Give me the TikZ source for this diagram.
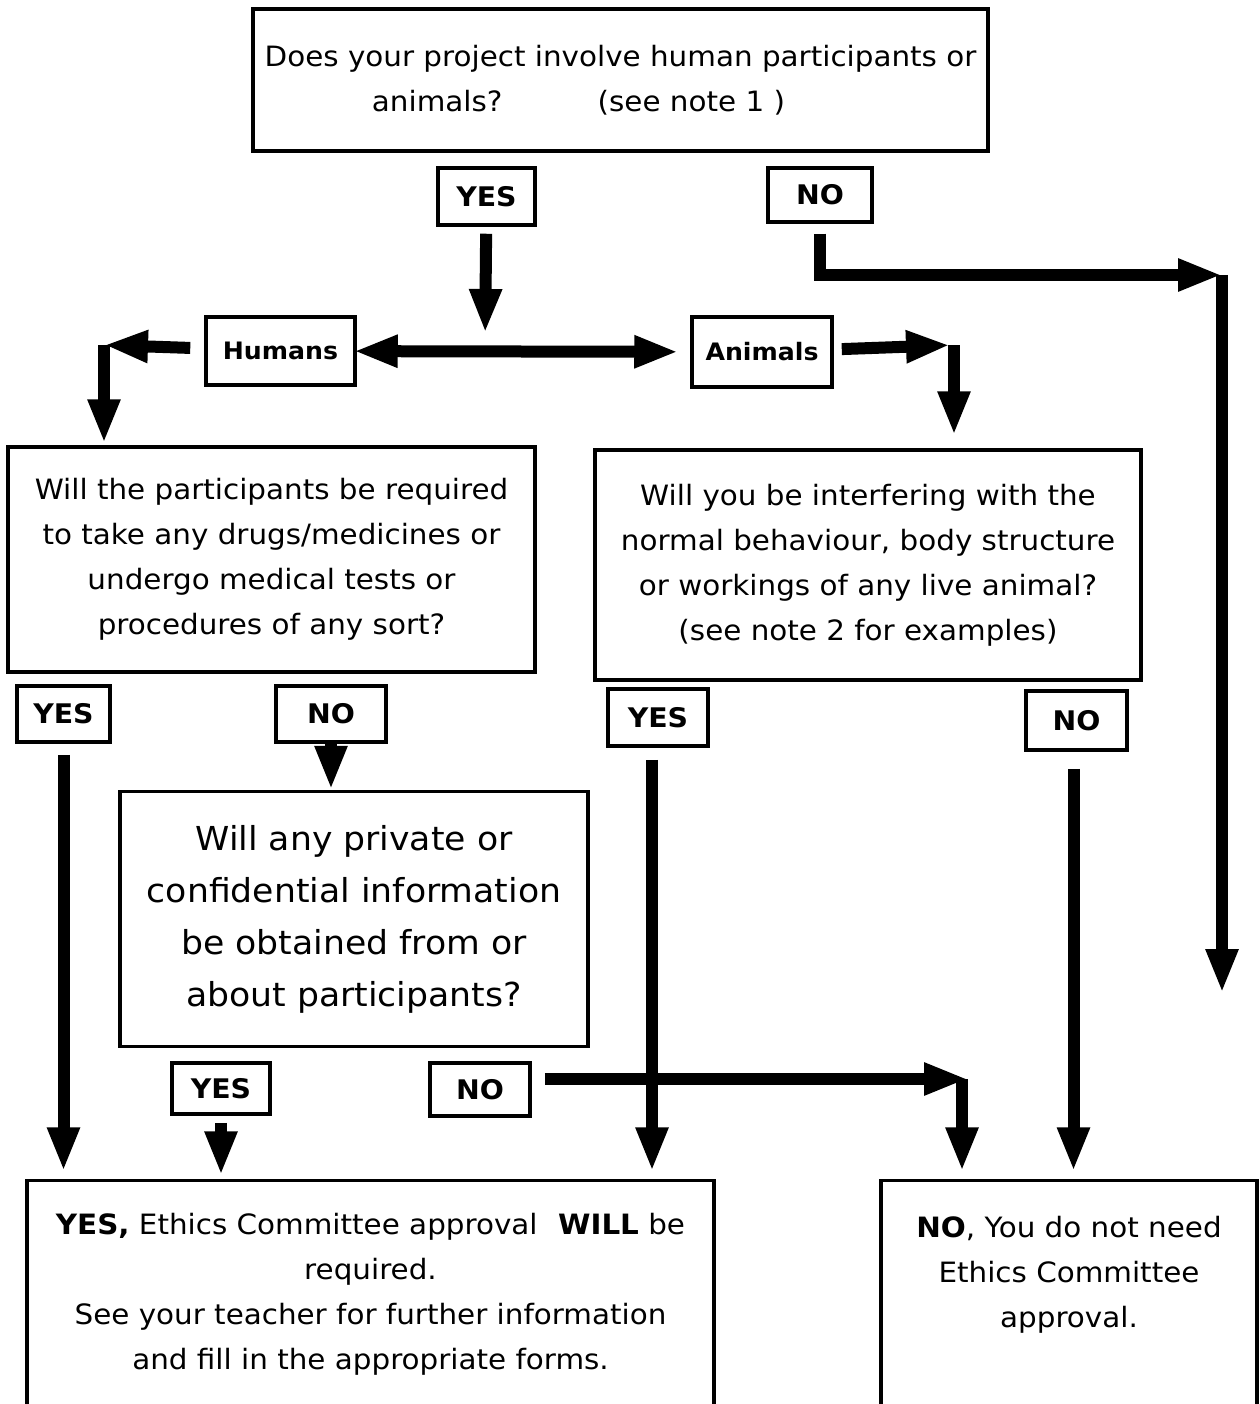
\documentclass[tikz,border=0pt]{standalone}
\usepackage{fontspec}
\setmainfont{DejaVu Sans}[FakeStretch=1.05]
\usetikzlibrary{arrows.meta}

\begin{document}
\begin{tikzpicture}[x=1pt,y=-1pt]

\tikzset{box/.style = {draw,line width=3.5pt,inner sep=0pt,align=center,font=\fontsize{28}{45}\selectfont}}
\tikzset{tag/.style = {box,font=\fontsize{27}{30}\selectfont\bfseries}}
\tikzset{outbox/.style = {inner sep=0pt,align=center,font=\fontsize{28}{45}\selectfont}}
\tikzset{edge/.style = {-{Triangle[length=44pt,width=30pt]},line width=12pt}}
\tikzset{wall/.style = {line width=3.5pt}}

\useasboundingbox (0,0) rectangle (1259,1404);
% questions
\node[box,minimum width=735pt,minimum height=142pt] (Start) at (620.5,80) {Does your project involve human participants or\\animals?\hspace*{3.4em}(see note 1 )\hspace*{3em}};
\node[box,minimum width=527pt,minimum height=225pt] (QHum) at (271.5,559.5) {Will the participants be required\\to take any drugs/medicines or\\undergo medical tests or\\procedures of any sort?};
\node[box,minimum width=546pt,minimum height=230pt] (QAni) at (868,565) {Will you be interfering with the\\normal behaviour, body structure\\or workings of any live animal?\\(see note 2 for examples)};
\node[box,minimum width=468pt,minimum height=255pt,font=\fontsize{33}{52}\selectfont] (QInfo) at (354,919) {Will any private or\\confidential information\\be obtained from or\\about participants?};
% answers
\node[tag,minimum width=97pt,minimum height=57pt] (Yes1) at (486.5,196.5) {YES};
\node[tag,minimum width=104pt,minimum height=54pt] (No1) at (820,195) {NO};
\node[tag,minimum width=149pt,minimum height=68pt,font=\fontsize{24}{30}\selectfont\bfseries] (Humans) at (280.5,351) {Humans};
\node[tag,minimum width=140pt,minimum height=70pt,font=\fontsize{24}{30}\selectfont\bfseries] (Animals) at (762,352) {Animals};
\node[tag,minimum width=93pt,minimum height=56pt] (Yes2) at (63.5,714) {YES};
\node[tag,minimum width=110pt,minimum height=56pt] (No2) at (331,714) {NO};
\node[tag,minimum width=100pt,minimum height=57pt] (Yes3) at (658,717.5) {YES};
\node[tag,minimum width=101pt,minimum height=59pt] (No3) at (1076.5,720.5) {NO};
\node[tag,minimum width=98pt,minimum height=51pt] (Yes4) at (221,1088.5) {YES};
\node[tag,minimum width=100pt,minimum height=53pt] (No4) at (480,1089.5) {NO};
% outcomes
\node[outbox,minimum width=687pt,minimum height=227pt] (OutYes) at (370.5,1294) {\textbf{YES,} Ethics Committee approval\hspace{0.4em} \textbf{WILL} be\\required.\\See your teacher for further information\\and fill in the appropriate forms.};
\node[outbox,minimum width=376pt,minimum height=227pt] (OutNo) at (1069,1294) {\textbf{NO}, You do not need\\Ethics Committee\\approval.\\\mbox{}};
\draw[wall] (OutYes.south west) -- (OutYes.north west) -- (OutYes.north east) -- (OutYes.south east);
\draw[wall] (OutNo.south west) -- (OutNo.north west) -- (OutNo.north east) -- (OutNo.south east);
% bends
\coordinate (Split) at (485,349);
\coordinate (HumBend) at (104,345);
\coordinate (AniBend) at (954,345);
\coordinate (NoBend) at (1222,275);
\coordinate (NoEnd) at (1222,993);
\coordinate (InfoBend) at (962,1079);
%edges
\draw[edge,shorten <=7pt,shorten >=16pt] (Yes1) -- (Split);
\draw[edge,{Triangle[length=44pt,width=30pt]}-{Triangle[length=44pt,width=30pt]},shorten <=-3pt,shorten >=12pt] (Humans) -- (Animals);
\draw[edge,shorten <=14pt] (Humans) -- (HumBend);
\draw[edge,shorten >=2pt] (HumBend) -- (HumBend |- QHum.north);
\draw[edge,shorten <=8pt,shorten >=4pt] (Animals) -- (AniBend);
\draw[edge,shorten >=13pt] (AniBend) -- (AniBend |- QAni.north);
\draw[edge,shorten <=10pt] (No1) |- (NoBend);
\draw[edge] (NoBend) -- (NoEnd);
\draw[edge,shorten <=11pt,shorten >=9pt] (Yes2) -- (Yes2 |- OutYes.north);
\draw[edge] (No2) -- (No2 |- QInfo.north);
\draw[edge,shorten <=12pt,shorten >=9pt] ([xshift=-6pt]Yes3.south) -- ([xshift=-6pt]Yes3.south |- OutYes.north);
\draw[edge,shorten <=17pt,shorten >=9pt] ([xshift=-3pt]No3.south) -- ([xshift=-3pt]No3.south |- OutYes.north);
\draw[edge,shorten <=7pt,shorten >=5pt] (Yes4) -- (Yes4 |- OutYes.north);
\draw[edge,shorten <=13pt,shorten >=-6pt] (No4.east |- InfoBend) -- (InfoBend);
\draw[edge,shorten >=9pt] (InfoBend) -- (InfoBend |- OutNo.north);
\end{tikzpicture}
\end{document}
